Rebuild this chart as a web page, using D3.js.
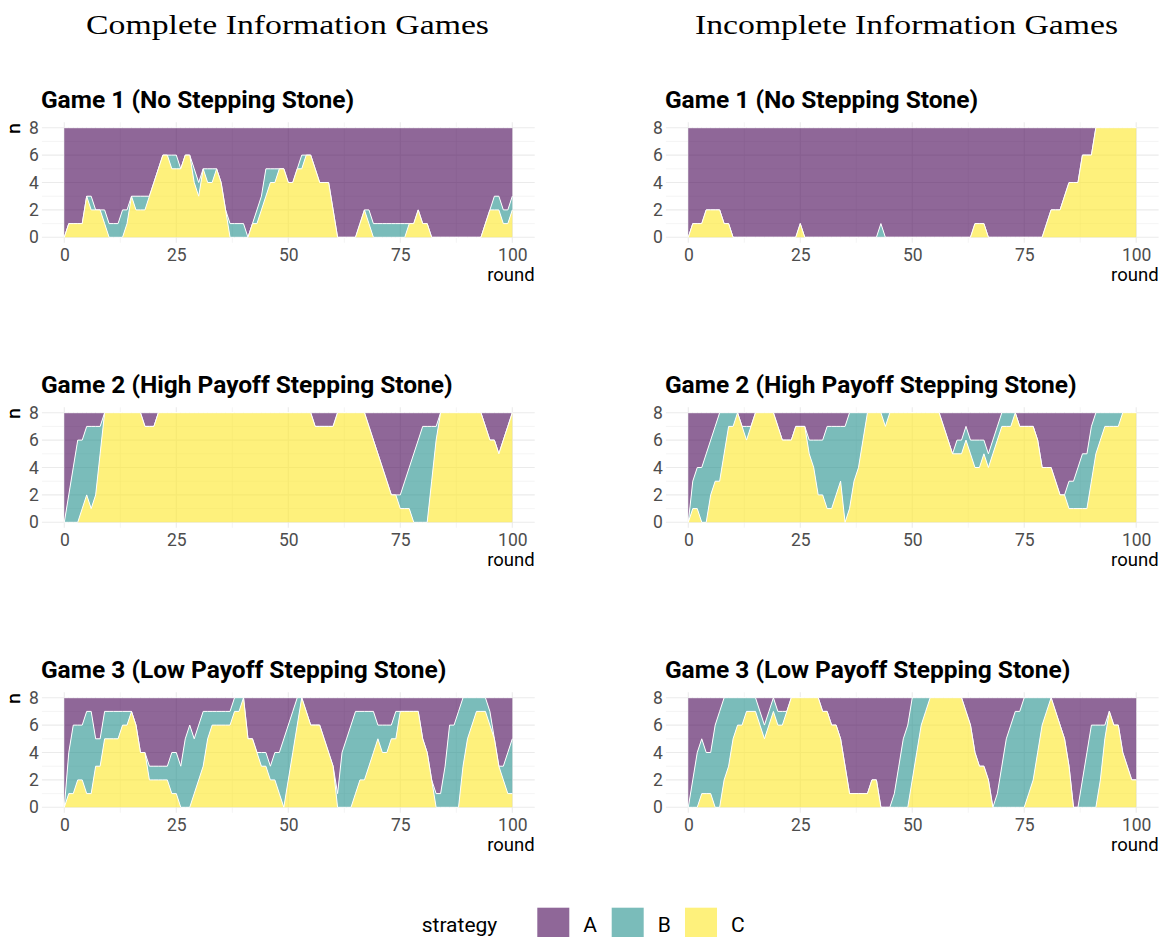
<!DOCTYPE html>
<html>
<head>
<meta charset="utf-8">
<script src="https://cdn.jsdelivr.net/npm/d3@7"></script>
<style>
  body { margin: 0; background: #fff; }
  svg { display: block; }
</style>
</head>
<body>
<script>
// rounds 0..100
const rounds = d3.range(0, 101);
const strategies = ['A', 'B', 'C'];
const columnTitles = ['Complete Information Games', 'Incomplete Information Games'];
const gameTitles = ['Game 1 (No Stepping Stone)', 'Game 2 (High Payoff Stepping Stone)', 'Game 3 (Low Payoff Stepping Stone)'];
const yTicks = [0, 2, 4, 6, 8];
const xTicks = [0, 25, 50, 75, 100];

// Game 1, complete information
const g1CompleteA = [8,7,7,7,7,5,5,6,6,6, 7,7,7,6,6,5,5,5,5,5, 4,3,2,2,2,2,3,2,2,3, 4,3,3,3,3,4,6,7,7,7, 7,8,7,6,5,3,3,3,3,3, 4,4,3,2,2,2,3,4,4,4, 6,8,8,8,8,8,7,6,6,7, 7,7,7,7,7,7,7,7,7,6, 7,7,8,8,8,8,8,8,8,8, 8,8,8,8,7,6,5,5,6,6, 5];
const g1CompleteB = [0,0,0,0,0,0,1,0,0,1, 1,1,1,2,1,0,1,1,1,0, 0,0,0,0,1,1,0,0,0,1, 1,0,1,1,0,0,0,1,1,1, 1,0,0,1,1,2,1,1,0,0, 0,0,0,1,0,0,0,0,0,0, 0,0,0,0,0,0,0,0,1,1, 1,1,1,1,1,1,1,0,0,0, 0,0,0,0,0,0,0,0,0,0, 0,0,0,0,0,0,1,1,1,1, 1];
const g1CompleteC = [0,1,1,1,1,3,2,2,2,1, 0,0,0,0,1,3,2,2,2,3, 4,5,6,6,5,5,5,6,6,4, 3,5,4,4,5,4,2,0,0,0, 0,0,1,1,2,3,4,4,5,5, 4,4,5,5,6,6,5,4,4,4, 2,0,0,0,0,0,1,2,1,0, 0,0,0,0,0,0,0,1,1,2, 1,1,0,0,0,0,0,0,0,0, 0,0,0,0,1,2,2,2,1,1, 2];

// Game 1, incomplete information
const g1IncompleteA = [8,7,7,7,6,6,6,6,7,7, 8,8,8,8,8,8,8,8,8,8, 8,8,8,8,8,7,8,8,8,8, 8,8,8,8,8,8,8,8,8,8, 8,8,8,7,8,8,8,8,8,8, 8,8,8,8,8,8,8,8,8,8, 8,8,8,8,7,7,7,8,8,8, 8,8,8,8,8,8,8,8,8,8, 7,6,6,6,5,4,4,4,2,2, 2,0,0,0,0,0,0,0,0,0, 0];
const g1IncompleteB = [0,0,0,0,0,0,0,0,0,0, 0,0,0,0,0,0,0,0,0,0, 0,0,0,0,0,0,0,0,0,0, 0,0,0,0,0,0,0,0,0,0, 0,0,0,1,0,0,0,0,0,0, 0,0,0,0,0,0,0,0,0,0, 0,0,0,0,0,0,0,0,0,0, 0,0,0,0,0,0,0,0,0,0, 0,0,0,0,0,0,0,0,0,0, 0,0,0,0,0,0,0,0,0,0, 0];
const g1IncompleteC = [0,1,1,1,2,2,2,2,1,1, 0,0,0,0,0,0,0,0,0,0, 0,0,0,0,0,1,0,0,0,0, 0,0,0,0,0,0,0,0,0,0, 0,0,0,0,0,0,0,0,0,0, 0,0,0,0,0,0,0,0,0,0, 0,0,0,0,1,1,1,0,0,0, 0,0,0,0,0,0,0,0,0,0, 1,2,2,2,3,4,4,4,6,6, 6,8,8,8,8,8,8,8,8,8, 8];

// Game 2, complete information
const g2CompleteA = [8,6,4,2,2,1,1,1,1,0, 0,0,0,0,0,0,0,0,1,1, 1,0,0,0,0,0,0,0,0,0, 0,0,0,0,0,0,0,0,0,0, 0,0,0,0,0,0,0,0,0,0, 0,0,0,0,0,0,1,1,1,1, 1,0,0,0,0,0,0,0,1,2, 3,4,5,6,6,6,5,4,3,2, 1,1,1,1,0,0,0,0,0,0, 0,0,0,0,1,2,2,3,2,1, 0];
const g2CompleteB = [0,2,4,6,5,5,6,5,2,0, 0,0,0,0,0,0,0,0,0,0, 0,0,0,0,0,0,0,0,0,0, 0,0,0,0,0,0,0,0,0,0, 0,0,0,0,0,0,0,0,0,0, 0,0,0,0,0,0,0,0,0,0, 0,0,0,0,0,0,0,0,0,0, 0,0,0,0,0,1,2,3,5,6, 7,7,4,1,0,0,0,0,0,0, 0,0,0,0,0,0,0,0,0,0, 0];
const g2CompleteC = [0,0,0,0,1,2,1,2,5,8, 8,8,8,8,8,8,8,8,7,7, 7,8,8,8,8,8,8,8,8,8, 8,8,8,8,8,8,8,8,8,8, 8,8,8,8,8,8,8,8,8,8, 8,8,8,8,8,8,7,7,7,7, 7,8,8,8,8,8,8,8,7,6, 5,4,3,2,2,1,1,1,0,0, 0,0,3,6,8,8,8,8,8,8, 8,8,8,8,7,6,6,5,6,7, 8];

// Game 2, incomplete information
const g2IncompleteA = [8,5,4,4,3,2,1,0,0,0, 0,0,1,1,1,0,0,0,0,0, 1,2,2,2,1,1,1,2,2,2, 2,1,1,1,1,1,0,0,0,0, 0,0,0,0,0,0,0,0,0,0, 0,0,0,0,0,0,0,1,2,3, 2,2,1,2,2,2,2,3,2,1, 0,0,0,0,1,1,1,1,2,4, 4,4,5,6,6,5,5,4,3,3, 1,0,0,0,0,0,0,0,0,0, 0];
const g2IncompleteB = [0,2,3,4,5,4,4,5,3,1, 1,0,0,1,0,0,0,0,0,0, 0,0,0,0,0,0,0,1,2,4, 4,6,6,5,4,7,7,5,4,2, 0,0,0,0,1,0,0,0,0,0, 0,0,0,0,0,0,0,0,0,0, 1,1,1,1,2,2,1,1,1,1, 1,1,1,0,0,0,0,0,0,0, 0,0,0,0,0,2,2,3,4,4, 4,3,2,1,1,1,1,0,0,0, 0];
const g2IncompleteC = [0,1,1,0,0,2,3,3,5,7, 7,8,7,6,7,8,8,8,8,8, 7,6,6,6,7,7,7,5,4,2, 2,1,1,2,3,0,1,3,4,6, 8,8,8,8,7,8,8,8,8,8, 8,8,8,8,8,8,8,7,6,5, 5,5,6,5,4,4,5,4,5,6, 7,7,7,8,7,7,7,7,6,4, 4,4,3,2,2,1,1,1,1,1, 3,5,6,7,7,7,7,8,8,8, 8];

// Game 3, complete information
const g3CompleteA = [8,4,2,2,2,1,1,3,3,1, 1,1,1,1,1,1,2,4,4,5, 5,5,5,5,4,4,5,3,2,3, 2,1,1,1,1,1,1,1,0,0, 0,3,3,4,4,4,5,4,4,3, 2,1,0,0,1,2,2,2,3,4, 5,7,4,3,2,1,1,1,1,1, 2,2,2,2,1,1,1,1,1,1, 3,4,6,7,7,5,2,2,1,0, 0,0,0,0,0,1,3,5,5,4, 3];
const g3CompleteB = [0,3,5,4,4,6,6,2,2,2, 2,2,2,1,1,0,0,0,0,1, 1,1,1,1,3,3,3,5,6,4, 4,4,2,1,1,1,1,1,1,1, 0,0,0,0,1,1,1,2,3,5, 4,3,2,0,0,0,0,0,0,0, 0,1,4,5,6,6,5,5,4,3, 1,2,2,1,2,0,0,0,0,0, 0,0,0,1,1,3,6,6,7,5, 3,2,1,1,1,1,0,0,1,3, 4];
const g3CompleteC = [0,1,1,2,2,1,1,3,3,5, 5,5,5,6,6,7,6,4,4,2, 2,2,2,2,1,1,0,0,0,1, 2,3,5,6,6,6,6,6,7,7, 8,5,5,4,3,3,2,2,1,0, 2,4,6,8,7,6,6,6,5,4, 3,0,0,0,0,1,2,2,3,4, 5,4,4,5,5,7,7,7,7,7, 5,4,2,0,0,0,0,0,0,3, 5,6,7,7,7,6,5,3,2,1, 1];

// Game 3, incomplete information
const g3IncompleteA = [8,6,4,3,4,4,2,1,0,0, 0,0,0,0,0,0,1,2,1,0, 1,1,1,0,0,0,0,0,0,0, 1,1,2,2,3,5,7,7,7,7, 7,6,6,8,8,8,7,5,3,2, 0,0,0,0,0,0,0,0,0,0, 0,0,1,2,4,5,5,6,8,7, 5,3,2,1,1,0,0,0,0,0, 0,0,1,2,3,5,8,8,6,4, 2,2,2,2,1,2,2,4,5,6, 6];
const g3IncompleteB = [0,2,4,4,3,3,6,7,6,5, 3,2,2,1,1,1,1,1,1,1, 1,1,0,0,0,0,0,0,0,0, 0,0,0,0,0,0,0,0,0,0, 0,0,0,0,0,0,1,3,5,6, 6,4,2,1,0,0,0,0,0,0, 0,0,0,0,0,0,0,0,0,1, 3,5,6,7,7,8,7,6,4,2, 1,0,0,0,0,0,0,0,2,4, 6,6,4,1,0,0,0,0,0,0, 0];
const g3IncompleteC = [0,0,0,1,1,1,0,0,2,3, 5,6,6,7,7,7,6,5,6,7, 6,6,7,8,8,8,8,8,8,8, 7,7,6,6,5,3,1,1,1,1, 1,2,2,0,0,0,0,0,0,0, 2,4,6,7,8,8,8,8,8,8, 8,8,7,6,4,3,3,2,0,0, 0,0,0,0,0,0,1,2,4,6, 7,8,7,6,5,3,0,0,0,0, 0,0,2,5,7,6,6,4,3,2, 2];

const panels = [
  { col: 0, row: 0, A: g1CompleteA, B: g1CompleteB, C: g1CompleteC },
  { col: 1, row: 0, A: g1IncompleteA, B: g1IncompleteB, C: g1IncompleteC },
  { col: 0, row: 1, A: g2CompleteA, B: g2CompleteB, C: g2CompleteC },
  { col: 1, row: 1, A: g2IncompleteA, B: g2IncompleteB, C: g2IncompleteC },
  { col: 0, row: 2, A: g3CompleteA, B: g3CompleteB, C: g3CompleteC },
  { col: 1, row: 2, A: g3IncompleteA, B: g3IncompleteB, C: g3IncompleteC },
];

const colors = { A: '#440154', B: '#21908C', C: '#FDE725' };
const sans = 'Roboto, "Liberation Sans", sans-serif';

// layout: pixel positions of round 0 / 100 and n = 0 / 8
const colX = [[64.3, 512.3], [688.3, 1136.2]];
const rowY = [[237.3, 127.7], [522.3, 412.7], [807.3, 697.7]];

const svg = d3.select('body').append('svg')
  .attr('width', 1160)
  .attr('height', 937);

// column headings
const headX = [287.5, 906.5];
const headW = [403, 423];
columnTitles.forEach((t, i) => {
  svg.append('text')
    .attr('x', headX[i])
    .attr('y', 34)
    .attr('text-anchor', 'middle')
    .attr('font-family', '"Liberation Serif", "DejaVu Serif", serif')
    .attr('font-size', 28)
    .attr('textLength', headW[i])
    .attr('lengthAdjust', 'spacingAndGlyphs')
    .text(t);
});

panels.forEach((p) => {
  const x = d3.scaleLinear().domain([0, 100]).range(colX[p.col]);
  const y = d3.scaleLinear().domain([0, 8]).range(rowY[p.row]);
  const g = svg.append('g');

  const left = x(-5), right = x(105), top = y(8.4), bottom = y(-0.4);

  // grid (theme_minimal)
  const grid = g.append('g').attr('stroke', '#ebebeb');
  [1, 3, 5, 7].forEach((v) => {
    grid.append('line').attr('x1', left).attr('x2', right)
      .attr('y1', y(v)).attr('y2', y(v)).attr('stroke-width', 0.55);
  });
  [12.5, 37.5, 62.5, 87.5].forEach((v) => {
    grid.append('line').attr('x1', x(v)).attr('x2', x(v))
      .attr('y1', top).attr('y2', bottom).attr('stroke-width', 0.55);
  });
  yTicks.forEach((v) => {
    grid.append('line').attr('x1', left).attr('x2', right)
      .attr('y1', y(v)).attr('y2', y(v)).attr('stroke-width', 1.1);
  });
  xTicks.forEach((v) => {
    grid.append('line').attr('x1', x(v)).attr('x2', x(v))
      .attr('y1', top).attr('y2', bottom).attr('stroke-width', 1.1);
  });

  // stacked areas: C bottom, B middle, A on top
  const table = rounds.map((r, i) => ({ round: r, A: p.A[i], B: p.B[i], C: p.C[i] }));
  const series = d3.stack().keys(['C', 'B', 'A'])(table);
  const area = d3.area()
    .x((d) => x(d.data.round))
    .y0((d) => y(d[0]))
    .y1((d) => y(d[1]));
  const upper = d3.line()
    .x((d) => x(d.data.round))
    .y((d) => y(d[1]));

  series.slice().reverse().forEach((s) => {
    g.append('path')
      .attr('d', area(s))
      .attr('fill', colors[s.key])
      .attr('fill-opacity', 0.6);
    g.append('path')
      .attr('d', upper(s))
      .attr('fill', 'none')
      .attr('stroke', '#fff')
      .attr('stroke-width', 1);
  });

  // axes
  const yAxis = g.append('g')
    .attr('transform', `translate(${left},0)`)
    .call(d3.axisLeft(y).tickValues(yTicks).tickSize(0).tickPadding(3));
  const xAxis = g.append('g')
    .attr('transform', `translate(0,${bottom})`)
    .call(d3.axisBottom(x).tickValues(xTicks).tickSize(0).tickPadding(6));
  [yAxis, xAxis].forEach((a) => {
    a.select('.domain').remove();
    a.selectAll('text')
      .attr('font-family', sans)
      .attr('font-size', 17.5)
      .attr('fill', '#4d4d4d');
  });

  // axis titles
  g.append('text')
    .attr('transform', `translate(20,${top + 1}) rotate(-90)`)
    .attr('text-anchor', 'end')
    .attr('font-family', sans)
    .attr('font-size', 19)
    .text('n');
  g.append('text')
    .attr('x', right)
    .attr('y', bottom + 38)
    .attr('text-anchor', 'end')
    .attr('font-family', sans)
    .attr('font-size', 18.5)
    .text('round');

  // panel title
  g.append('text')
    .attr('x', left - 1)
    .attr('y', top - 14)
    .attr('font-family', sans)
    .attr('font-weight', 'bold')
    .attr('font-size', 24.5)
    .text(gameTitles[p.row]);
});

// legend
const legend = svg.append('g');
legend.append('text')
  .attr('x', 421.7)
  .attr('y', 932)
  .attr('font-family', sans)
  .attr('font-size', 21)
  .text('strategy');
const keyX = [537.3, 611.7, 685];
strategies.forEach((k, i) => {
  legend.append('rect')
    .attr('x', keyX[i])
    .attr('y', 907.7)
    .attr('width', 32)
    .attr('height', 32)
    .attr('fill', colors[k])
    .attr('fill-opacity', 0.6);
  legend.append('text')
    .attr('x', keyX[i] + 46)
    .attr('y', 932)
    .attr('font-family', sans)
    .attr('font-size', 21)
    .text(k);
});
</script>
</body>
</html>
